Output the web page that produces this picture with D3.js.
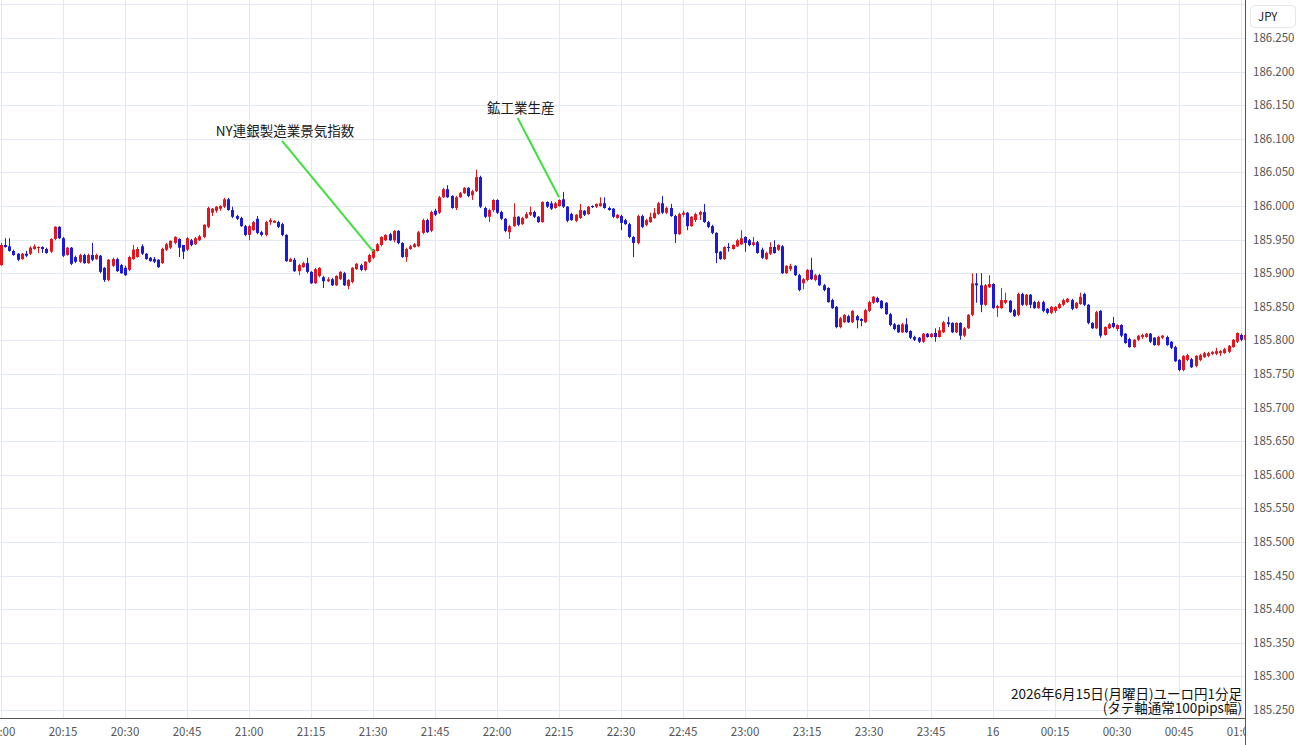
<!DOCTYPE html>
<html>
<head>
<meta charset="utf-8">
<script src="https://cdn.jsdelivr.net/npm/d3@7"></script>
<style>
  body { margin: 0; background: #fff; }
  svg { display: block; font-family: "Noto Sans CJK JP", "Noto Sans", sans-serif; }
</style>
</head>
<body>
<svg id="chart" width="1300" height="745"></svg>
<script>
// EUR/JPY 1-minute candles, 2026-06-15 20:00 - 2026-06-16 01:01
const open = [
  185.912,185.942,185.940,185.933,185.929,185.921,185.929,185.929,185.936,185.938,
  185.939,185.936,185.932,185.951,185.969,185.952,185.927,185.938,185.924,185.917,
  185.927,185.915,185.927,185.921,185.926,185.908,185.890,185.911,185.921,185.912,
  185.908,185.905,185.921,185.924,185.940,185.929,185.923,185.921,185.920,185.915,
  185.935,185.938,185.945,185.951,185.942,185.935,185.949,185.943,185.949,185.954,
  185.969,185.990,185.993,185.996,185.999,186.010,185.994,185.985,185.982,185.970,
  185.957,185.964,185.981,185.961,185.957,185.976,185.975,185.976,185.973,185.957,
  185.917,185.920,185.903,185.909,185.915,185.902,185.885,185.896,185.894,185.888,
  185.891,185.882,185.891,185.900,185.881,185.887,185.906,185.912,185.905,185.917,
  185.923,185.933,185.942,185.949,185.958,185.949,185.963,185.945,185.924,185.936,
  185.939,185.940,185.960,185.979,185.963,185.993,185.990,186.013,186.025,186.015,
  185.997,186.013,186.019,186.027,186.016,186.022,186.043,185.997,185.984,185.994,
  186.009,185.991,185.981,185.961,185.970,185.984,185.973,185.982,185.987,185.991,
  185.984,185.976,186.006,186.004,185.997,186.000,186.010,185.999,185.988,185.978,
  185.982,185.993,185.988,186.000,185.999,186.000,186.004,185.997,185.996,185.982,
  185.985,185.979,185.973,185.954,185.945,185.985,185.972,185.976,185.982,185.988,
  186.004,185.990,185.997,185.985,185.958,185.987,185.990,185.970,185.979,185.987,
  185.991,185.976,185.970,185.960,185.932,185.921,185.939,185.936,185.940,185.943,
  185.954,185.949,185.942,185.946,185.935,185.921,185.929,185.939,185.935,185.940,
  185.900,185.906,185.911,185.897,185.885,185.890,185.905,185.890,185.897,185.882,
  185.878,185.860,185.850,185.820,185.827,185.836,185.827,185.836,185.832,185.827,
  185.844,185.856,185.863,185.859,185.856,185.839,185.824,185.823,185.812,185.824,
  185.814,185.805,185.804,185.798,185.810,185.805,185.811,185.805,185.812,185.827,
  185.826,185.812,185.826,185.807,185.818,185.838,185.885,185.882,185.853,185.879,
  185.884,185.848,185.848,185.856,185.859,185.845,185.838,185.869,185.853,185.868,
  185.857,185.848,185.857,185.847,185.841,185.844,185.848,185.853,185.857,185.860,
  185.848,185.854,185.869,185.853,185.826,185.818,185.844,185.808,185.818,185.826,
  185.817,185.823,185.810,185.802,185.790,185.801,185.805,185.805,185.810,185.804,
  185.793,185.804,185.805,185.798,185.790,185.771,185.756,185.771,185.772,185.762,
  185.771,185.775,185.777,185.780,185.780,185.781,185.781,185.783,185.790,185.798,
  185.808,185.801
];
const high = [
  185.945,185.952,185.952,185.935,185.930,185.930,185.933,185.940,185.943,185.940,
  185.940,185.938,185.952,185.970,185.970,185.954,185.939,185.939,185.926,185.929,
  185.929,185.929,185.945,185.929,185.927,185.909,185.921,185.923,185.923,185.914,
  185.911,185.926,185.942,185.939,185.943,185.930,185.924,185.924,185.921,185.938,
  185.945,185.949,185.955,185.952,185.942,185.954,185.951,185.954,185.957,185.973,
  185.999,185.997,186.000,186.001,186.012,186.012,185.999,185.987,185.984,185.972,
  185.972,185.978,185.985,185.963,185.978,185.982,185.979,185.978,185.975,185.958,
  185.923,185.923,185.914,185.917,185.923,185.903,185.908,185.909,185.896,185.894,
  185.893,185.897,185.903,185.902,185.891,185.909,185.915,185.914,185.918,185.929,
  185.936,185.945,185.955,185.958,185.960,185.964,185.964,185.946,185.938,185.942,
  185.945,185.963,185.981,185.981,185.993,185.996,186.015,186.027,186.031,186.016,
  186.015,186.021,186.028,186.028,186.024,186.054,186.045,185.999,185.996,186.010,
  186.010,185.993,185.982,185.972,186.004,185.985,185.984,185.991,185.999,185.993,
  185.985,186.007,186.007,186.007,186.006,186.010,186.021,186.000,185.990,185.988,
  186.003,185.994,186.000,186.001,186.004,186.013,186.013,185.999,185.997,185.988,
  185.987,185.981,185.975,185.955,185.987,185.987,185.981,185.990,185.997,186.006,
  186.015,185.999,186.003,185.987,185.990,185.993,185.991,185.985,185.990,185.993,
  186.003,185.978,185.972,185.961,185.933,185.940,185.945,185.943,185.951,185.964,
  185.955,185.951,185.954,185.948,185.938,185.932,185.946,185.949,185.943,185.942,
  185.912,185.914,185.912,185.899,185.893,185.906,185.923,185.899,185.899,185.884,
  185.879,185.862,185.851,185.835,185.839,185.838,185.845,185.838,185.833,185.847,
  185.859,185.866,185.865,185.860,185.857,185.841,185.826,185.824,185.826,185.833,
  185.815,185.807,185.805,185.811,185.811,185.811,185.818,185.820,185.829,185.835,
  185.827,185.827,185.827,185.820,185.839,185.900,185.900,185.900,185.884,185.897,
  185.885,185.853,185.878,185.871,185.860,185.847,185.871,185.871,185.869,185.869,
  185.859,185.859,185.859,185.848,185.851,185.851,185.856,185.862,185.863,185.862,
  185.857,185.871,185.871,185.854,185.827,185.844,185.845,185.821,185.826,185.835,
  185.824,185.824,185.811,185.804,185.802,185.808,185.810,185.811,185.811,185.805,
  185.807,185.808,185.807,185.799,185.792,185.772,185.778,185.780,185.774,185.778,
  185.780,185.783,185.783,185.784,185.789,185.786,185.789,185.793,185.802,185.812,
  185.810,185.810
];
const low = [
  185.911,185.938,185.932,185.926,185.918,185.920,185.924,185.927,185.935,185.930,
  185.930,185.929,185.930,185.949,185.951,185.924,185.926,185.912,185.915,185.915,
  185.914,185.914,185.918,185.920,185.900,185.887,185.888,185.909,185.902,185.899,
  185.896,185.903,185.920,185.923,185.927,185.920,185.917,185.915,185.908,185.914,
  185.933,185.936,185.943,185.924,185.921,185.933,185.940,185.942,185.948,185.952,
  185.967,185.985,185.990,185.993,185.997,185.993,185.982,185.979,185.969,185.955,
  185.949,185.963,185.958,185.955,185.955,185.972,185.975,185.967,185.955,185.917,
  185.917,185.902,185.897,185.908,185.900,185.884,185.884,185.894,185.878,185.887,
  185.881,185.881,185.890,185.881,185.876,185.885,185.905,185.903,185.903,185.915,
  185.921,185.932,185.940,185.948,185.948,185.946,185.943,185.923,185.917,185.935,
  185.938,185.939,185.958,185.960,185.961,185.985,185.988,186.012,186.012,185.996,
  185.994,186.012,186.018,186.013,186.009,186.021,185.997,185.982,185.976,185.991,
  185.988,185.979,185.961,185.951,185.969,185.970,185.972,185.981,185.985,185.982,
  185.975,185.975,185.997,185.994,185.996,185.999,185.997,185.976,185.978,185.976,
  185.981,185.985,185.987,185.997,185.997,185.999,185.996,185.993,185.982,185.981,
  185.964,185.972,185.952,185.924,185.943,185.967,185.970,185.975,185.981,185.987,
  185.988,185.988,185.984,185.945,185.957,185.984,185.964,185.969,185.976,185.979,
  185.975,185.967,185.958,185.915,185.920,185.920,185.932,185.935,185.939,185.942,
  185.932,185.940,185.940,185.929,185.921,185.920,185.927,185.929,185.933,185.899,
  185.899,185.903,185.896,185.873,185.876,185.888,185.890,185.888,185.881,185.873,
  185.856,185.847,185.818,185.818,185.826,185.826,185.826,185.818,185.821,185.826,
  185.842,185.854,185.856,185.847,185.838,185.821,185.815,185.811,185.811,185.811,
  185.802,185.799,185.796,185.796,185.804,185.804,185.798,185.804,185.811,185.820,
  185.811,185.811,185.801,185.805,185.817,185.836,185.856,185.842,185.851,185.878,
  185.847,185.835,185.847,185.854,185.841,185.835,185.836,185.851,185.851,185.848,
  185.847,185.847,185.842,185.839,185.839,185.841,185.847,185.851,185.856,185.845,
  185.847,185.853,185.851,185.824,185.817,185.817,185.804,185.807,185.817,185.818,
  185.814,185.805,185.795,185.789,185.789,185.799,185.802,185.804,185.796,185.792,
  185.792,185.802,185.792,185.787,185.768,185.754,185.754,185.769,185.759,185.760,
  185.769,185.774,185.775,185.778,185.778,185.777,185.780,185.781,185.789,185.796,
  185.799,185.799
];
const close = [
  185.942,185.939,185.933,185.927,185.920,185.929,185.926,185.938,185.940,185.939,
  185.936,185.930,185.951,185.969,185.952,185.926,185.938,185.914,185.917,185.927,
  185.915,185.927,185.920,185.927,185.902,185.890,185.920,185.921,185.903,185.900,
  185.897,185.924,185.935,185.936,185.929,185.921,185.918,185.917,185.909,185.936,
  185.943,185.948,185.954,185.938,185.932,185.952,185.942,185.952,185.955,185.972,
  185.997,185.996,185.999,186.000,186.010,185.994,185.984,185.981,185.970,185.957,
  185.970,185.976,185.960,185.957,185.976,185.979,185.978,185.969,185.957,185.918,
  185.921,185.903,185.912,185.915,185.902,185.885,185.906,185.908,185.888,185.891,
  185.882,185.896,185.902,185.882,185.890,185.908,185.914,185.905,185.917,185.927,
  185.935,185.943,185.954,185.957,185.949,185.963,185.945,185.924,185.936,185.940,
  185.943,185.961,185.979,185.961,185.991,185.987,186.013,186.025,186.013,185.997,
  186.013,186.019,186.027,186.015,186.022,186.043,185.999,185.984,185.994,186.009,
  185.990,185.981,185.963,185.970,185.984,185.972,185.982,185.988,185.991,185.984,
  185.976,186.006,185.999,185.996,186.004,186.009,185.999,185.978,185.979,185.987,
  185.994,185.987,185.999,185.999,186.003,186.004,185.997,185.994,185.984,185.987,
  185.975,185.973,185.954,185.945,185.985,185.969,185.979,185.984,185.990,186.004,
  185.990,185.997,185.985,185.958,185.988,185.990,185.970,185.984,185.988,185.991,
  185.976,185.969,185.960,185.930,185.921,185.939,185.938,185.942,185.949,185.952,
  185.945,185.942,185.946,185.930,185.923,185.930,185.939,185.930,185.942,185.900,
  185.911,185.911,185.897,185.875,185.891,185.905,185.891,185.897,185.882,185.875,
  185.857,185.848,185.820,185.833,185.838,185.827,185.844,185.830,185.829,185.845,
  185.857,185.865,185.857,185.848,185.839,185.823,185.817,185.812,185.824,185.812,
  185.804,185.801,185.798,185.810,185.805,185.810,185.805,185.815,185.827,185.824,
  185.812,185.826,185.807,185.818,185.838,185.885,185.882,185.853,185.882,185.884,
  185.848,185.851,185.860,185.860,185.842,185.836,185.869,185.853,185.868,185.853,
  185.848,185.857,185.844,185.841,185.850,185.850,185.854,185.860,185.862,185.847,
  185.856,185.865,185.853,185.826,185.818,185.842,185.807,185.820,185.824,185.820,
  185.823,185.807,185.796,185.790,185.801,185.807,185.808,185.810,185.798,185.793,
  185.805,185.807,185.793,185.789,185.769,185.756,185.777,185.778,185.760,185.777,
  185.778,185.781,185.781,185.783,185.784,185.784,185.787,185.792,185.801,185.811,
  185.801,185.808
];

const priceTicks = [185.25, 185.30, 185.35, 185.40, 185.45, 185.50, 185.55, 185.60, 185.65,
  185.70, 185.75, 185.80, 185.85, 185.90, 185.95, 186.00, 186.05, 186.10, 186.15, 186.20, 186.25];
const gridPrices = priceTicks.concat([186.30]);

const eventLabels = ["NY連銀製造業景気指数", "鉱工業生産"];
const eventTimes = ["21:30", "22:15"];
const eventPrices = [185.933, 186.013];
const labelTimes = ["21:08", "22:05"];
const labelPrices = [186.097, 186.131];

const titleLines = ["2026年6月15日(月曜日)ユーロ円1分足", "(タテ軸通常100pips幅)"];

const startTime = new Date(2026, 5, 15, 20, 0);
const endTime = new Date(2026, 5, 16, 1, 0);

const W = 1300, H = 745;
const plotRight = 1245, plotBottom = 718;
const upColor = "#e8141c", downColor = "#1a1ad8", gridColor = "#e2e9f0";

const candles = close.map((c, i) => ({
  t: d3.timeMinute.offset(startTime, i),
  o: open[i], h: high[i], l: low[i], c: c
}));

const x = d3.scaleTime().domain([startTime, endTime]).range([1, 1241]);
const y = d3.scaleLinear().domain([185.25, 186.25]).range([710, 38]);

const parseHM = (s) => {
  const [hh, mm] = s.split(":").map(Number);
  const d = new Date(2026, 5, hh < 12 ? 16 : 15, hh, mm);
  return d;
};

const svg = d3.select("#chart");
svg.append("rect").attr("width", W).attr("height", H).attr("fill", "#fff");

svg.append("clipPath").attr("id", "plot")
  .append("rect").attr("x", 0).attr("y", 0).attr("width", plotRight).attr("height", plotBottom);

const plot = svg.append("g").attr("clip-path", "url(#plot)");

// grid
const xTicks = x.ticks(d3.timeMinute.every(15));
plot.append("g").selectAll("line").data(gridPrices).join("line")
  .attr("x1", 0).attr("x2", plotRight)
  .attr("y1", (d) => Math.round(y(d)) + 0.5).attr("y2", (d) => Math.round(y(d)) + 0.5)
  .attr("stroke", gridColor).attr("stroke-width", 1);
plot.append("g").selectAll("line").data(xTicks).join("line")
  .attr("y1", 0).attr("y2", plotBottom)
  .attr("x1", (d) => Math.round(x(d)) + 0.5).attr("x2", (d) => Math.round(x(d)) + 0.5)
  .attr("stroke", gridColor).attr("stroke-width", 1);

// candles
const cg = plot.append("g");
cg.selectAll("line").data(candles).join("line")
  .attr("x1", (d) => Math.round(x(d.t)) + 0.5).attr("x2", (d) => Math.round(x(d.t)) + 0.5)
  .attr("y1", (d) => y(d.h)).attr("y2", (d) => y(d.l))
  .attr("stroke", (d) => (d.c >= d.o ? upColor : downColor)).attr("stroke-width", 1);
cg.selectAll("rect").data(candles).join("rect")
  .attr("x", (d) => Math.round(x(d.t)) - 1)
  .attr("width", 3)
  .attr("y", (d) => y(Math.max(d.o, d.c)))
  .attr("height", (d) => Math.max(1, Math.abs(y(d.o) - y(d.c))))
  .attr("fill", (d) => (d.c >= d.o ? upColor : downColor));

// event annotations
eventLabels.forEach((label, i) => {
  const tx = x(parseHM(eventTimes[i])), ty = y(eventPrices[i]);
  const lx = x(parseHM(labelTimes[i])), ly = y(labelPrices[i]);
  plot.append("line")
    .attr("x1", lx).attr("y1", ly).attr("x2", tx).attr("y2", ty)
    .attr("stroke", "#3ee03e").attr("stroke-width", 2);
  plot.append("text")
    .attr("x", lx + 3).attr("y", ly - 5)
    .attr("text-anchor", "middle")
    .attr("font-size", 13.5).attr("fill", "#1a1a1a")
    .text(label);
});

// title in the lower right
plot.append("g").selectAll("text").data(titleLines).join("text")
  .attr("x", 1242).attr("y", (d, i) => 699 + i * 14)
  .attr("text-anchor", "end")
  .attr("font-size", 13.5).attr("fill", "#111")
  .text((d) => d);

// x axis
svg.append("line").attr("x1", 0).attr("x2", plotRight)
  .attr("y1", plotBottom + 0.5).attr("y2", plotBottom + 0.5)
  .attr("stroke", "#555").attr("stroke-width", 1);
svg.append("clipPath").attr("id", "xlab")
  .append("rect").attr("x", 0).attr("y", plotBottom).attr("width", plotRight).attr("height", H - plotBottom);
svg.append("g").attr("clip-path", "url(#xlab)")
  .selectAll("text").data(xTicks).join("text")
  .attr("x", (d) => x(d)).attr("y", 736)
  .attr("text-anchor", "middle")
  .attr("font-size", 11.5).attr("fill", "#555")
  .text((d) => (d.getHours() === 0 && d.getMinutes() === 0 ? d3.timeFormat("%-d")(d) : d3.timeFormat("%H:%M")(d)));

// y axis
svg.append("line").attr("x1", plotRight + 0.5).attr("x2", plotRight + 0.5)
  .attr("y1", 0).attr("y2", H)
  .attr("stroke", "#555").attr("stroke-width", 1);
svg.append("g").selectAll("text").data(priceTicks).join("text")
  .attr("x", 1253).attr("y", (d) => y(d) + 4)
  .attr("font-size", 11.5).attr("fill", "#555")
  .text((d) => d3.format(".3f")(d));

// currency box
svg.append("rect").attr("x", 1250.5).attr("y", 5.5).attr("width", 45).attr("height", 22).attr("rx", 4)
  .attr("fill", "#fff").attr("stroke", "#e6e6e6");
svg.append("text").attr("x", 1258).attr("y", 21).attr("font-size", 11.5).attr("fill", "#222").text("JPY");
</script>
</body>
</html>
